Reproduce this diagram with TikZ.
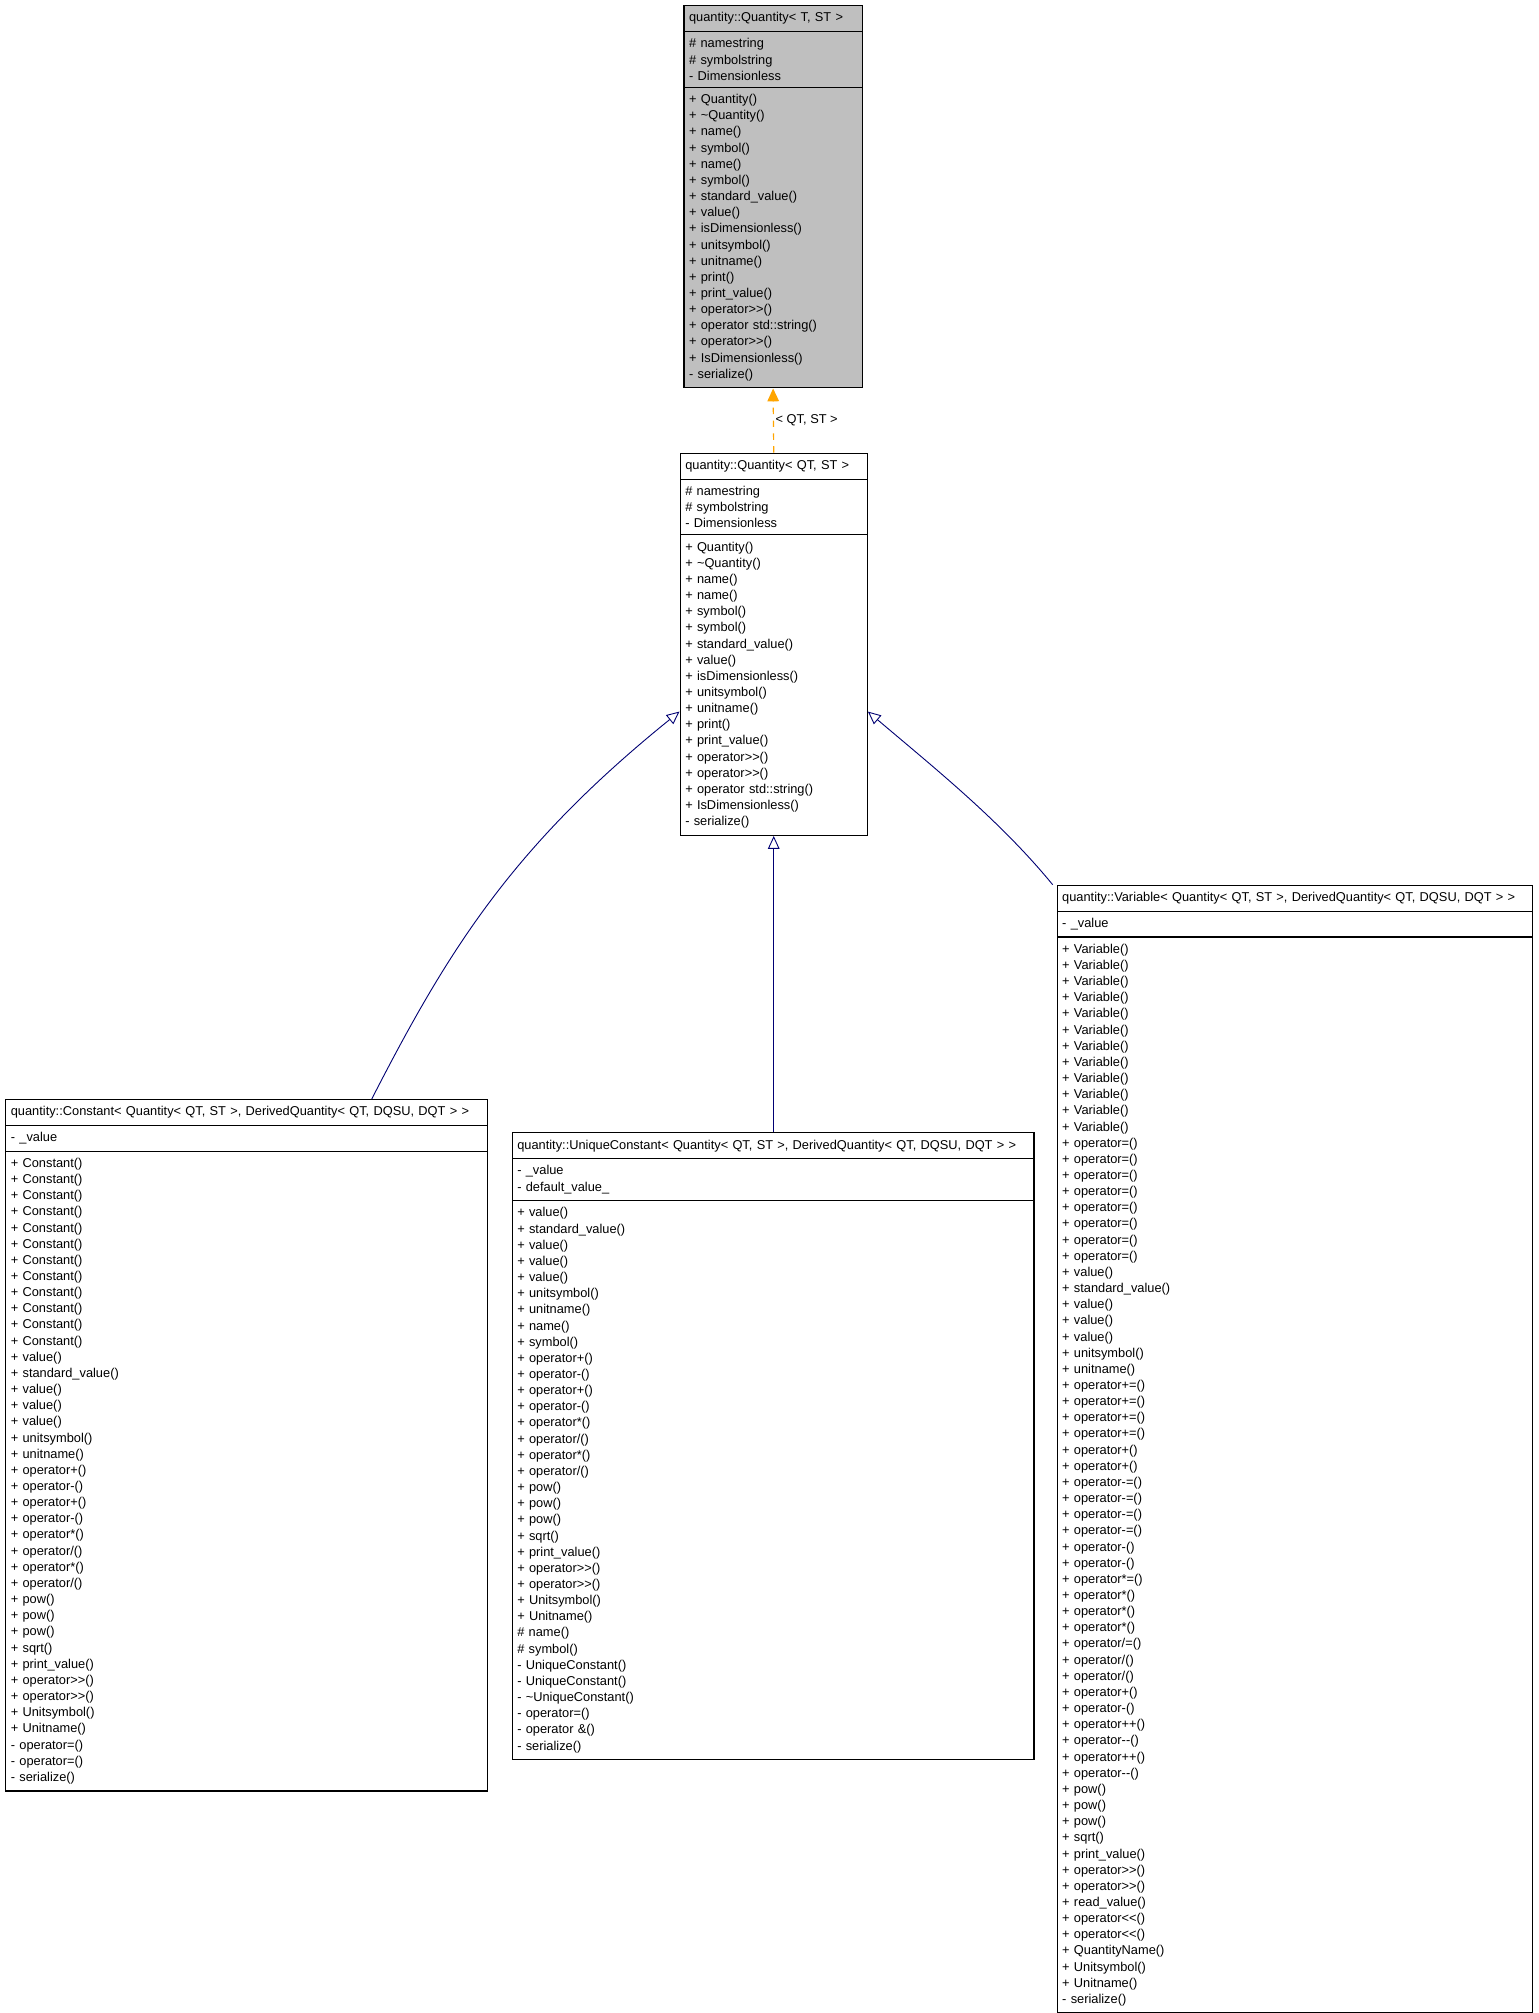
\documentclass[tikz,border=0pt]{standalone}
\usepackage{fontspec}
\setmainfont{Liberation Sans}
\usetikzlibrary{shapes.multipart,arrows.meta,calc}
\definecolor{dorange}{RGB}{255,165,0}
\begin{document}
\begin{tikzpicture}[x=1pt,y=-1pt,
  cls/.style={rectangle split,rectangle split parts=3,draw,line width=0.9pt,
    font=\fontsize{10}{12.6}\selectfont,align=left,inner xsep=4pt,inner ysep=5pt,
    anchor=north west,fill=white},
  inh/.style={draw=blue!45!black,line width=0.7pt,-{Triangle[open,width=9pt,length=10pt,fill=white]}},
  tmpl/.style={draw=dorange,line width=0.9pt,dashed,dash pattern=on 5pt off 5pt,-{Triangle[width=9pt,length=10pt]}}]
\useasboundingbox (0,0) rectangle (1200,1570);
\fill[white] (0,0) rectangle (1200,1570);

\node[cls,fill={rgb,255:red,191;green,191;blue,191},text width=131pt] (top) at (533,4) {\centering\mbox{quantity::Quantity< T, ST >}
\nodepart{second}\# namestring\\\# symbolstring\\- Dimensionless
\nodepart{third}+ Quantity()\\+ \textasciitilde Quantity()\\+ name()\\+ symbol()\\+ name()\\+ symbol()\\+ standard\_value()\\+ value()\\+ isDimensionless()\\+ unitsymbol()\\+ unitname()\\+ print()\\+ print\_value()\\+ operator>{}>()\\+ operator std::string()\\+ operator>{}>()\\+ IsDimensionless()\\- serialize()};

\node[cls,text width=138pt] (mid) at (530,353) {\centering\mbox{quantity::Quantity< QT, ST >}
\nodepart{second}\# namestring\\\# symbolstring\\- Dimensionless
\nodepart{third}+ Quantity()\\+ \textasciitilde Quantity()\\+ name()\\+ name()\\+ symbol()\\+ symbol()\\+ standard\_value()\\+ value()\\+ isDimensionless()\\+ unitsymbol()\\+ unitname()\\+ print()\\+ print\_value()\\+ operator>{}>()\\+ operator>{}>()\\+ operator std::string()\\+ IsDimensionless()\\- serialize()};

\node[cls,text width=368pt] (const) at (4,857) {\centering\mbox{quantity::Constant< Quantity< QT, ST >, DerivedQuantity< QT, DQSU, DQT > >}
\nodepart{second}- \_value
\nodepart{third}+ Constant()\\+ Constant()\\+ Constant()\\+ Constant()\\+ Constant()\\+ Constant()\\+ Constant()\\+ Constant()\\+ Constant()\\+ Constant()\\+ Constant()\\+ Constant()\\+ value()\\+ standard\_value()\\+ value()\\+ value()\\+ value()\\+ unitsymbol()\\+ unitname()\\+ operator+()\\+ operator-()\\+ operator+()\\+ operator-()\\+ operator*()\\+ operator/()\\+ operator*()\\+ operator/()\\+ pow()\\+ pow()\\+ pow()\\+ sqrt()\\+ print\_value()\\+ operator>{}>()\\+ operator>{}>()\\+ Unitsymbol()\\+ Unitname()\\- operator=()\\- operator=()\\- serialize()};

\node[cls,text width=399pt] (uniq) at (399,883) {\centering\mbox{quantity::UniqueConstant< Quantity< QT, ST >, DerivedQuantity< QT, DQSU, DQT > >}
\nodepart{second}- \_value\\- default\_value\_
\nodepart{third}+ value()\\+ standard\_value()\\+ value()\\+ value()\\+ value()\\+ unitsymbol()\\+ unitname()\\+ name()\\+ symbol()\\+ operator+()\\+ operator-()\\+ operator+()\\+ operator-()\\+ operator*()\\+ operator/()\\+ operator*()\\+ operator/()\\+ pow()\\+ pow()\\+ pow()\\+ sqrt()\\+ print\_value()\\+ operator>{}>()\\+ operator>{}>()\\+ Unitsymbol()\\+ Unitname()\\\# name()\\\# symbol()\\- UniqueConstant()\\- UniqueConstant()\\- \textasciitilde UniqueConstant()\\- operator=()\\- operator \&()\\- serialize()};

\node[cls,text width=363pt] (var) at (824,690) {\centering\mbox{quantity::Variable< Quantity< QT, ST >, DerivedQuantity< QT, DQSU, DQT > >}
\nodepart{second}- \_value
\nodepart{third}+ Variable()\\+ Variable()\\+ Variable()\\+ Variable()\\+ Variable()\\+ Variable()\\+ Variable()\\+ Variable()\\+ Variable()\\+ Variable()\\+ Variable()\\+ Variable()\\+ operator=()\\+ operator=()\\+ operator=()\\+ operator=()\\+ operator=()\\+ operator=()\\+ operator=()\\+ operator=()\\+ value()\\+ standard\_value()\\+ value()\\+ value()\\+ value()\\+ unitsymbol()\\+ unitname()\\+ operator+=()\\+ operator+=()\\+ operator+=()\\+ operator+=()\\+ operator+()\\+ operator+()\\+ operator-=()\\+ operator-=()\\+ operator-=()\\+ operator-=()\\+ operator-()\\+ operator-()\\+ operator*=()\\+ operator*()\\+ operator*()\\+ operator*()\\+ operator/=()\\+ operator/()\\+ operator/()\\+ operator+()\\+ operator-()\\+ operator++()\\+ operator-{}-()\\+ operator++()\\+ operator-{}-()\\+ pow()\\+ pow()\\+ pow()\\+ sqrt()\\+ print\_value()\\+ operator>{}>()\\+ operator>{}>()\\+ read\_value()\\+ operator<{}<()\\+ operator<{}<()\\+ QuantityName()\\+ Unitsymbol()\\+ Unitname()\\- serialize()};

\draw[tmpl] (mid.north) -- node[right,font=\fontsize{10}{12}\selectfont,xshift=-2pt] {< QT, ST >} (top.south);
\draw[inh] (uniq.north -| mid.south) -- (mid.south);
\draw[inh] ($(const.north west)+(286,0)$) .. controls (350,740) and (400,660) .. ($(mid.south west)+(0,-97)$);
\draw[inh] ($(var.north west)+(-3,0)$) .. controls (780,640) and (730,600) .. ($(mid.south east)+(0,-97)$);
\end{tikzpicture}
\end{document}
